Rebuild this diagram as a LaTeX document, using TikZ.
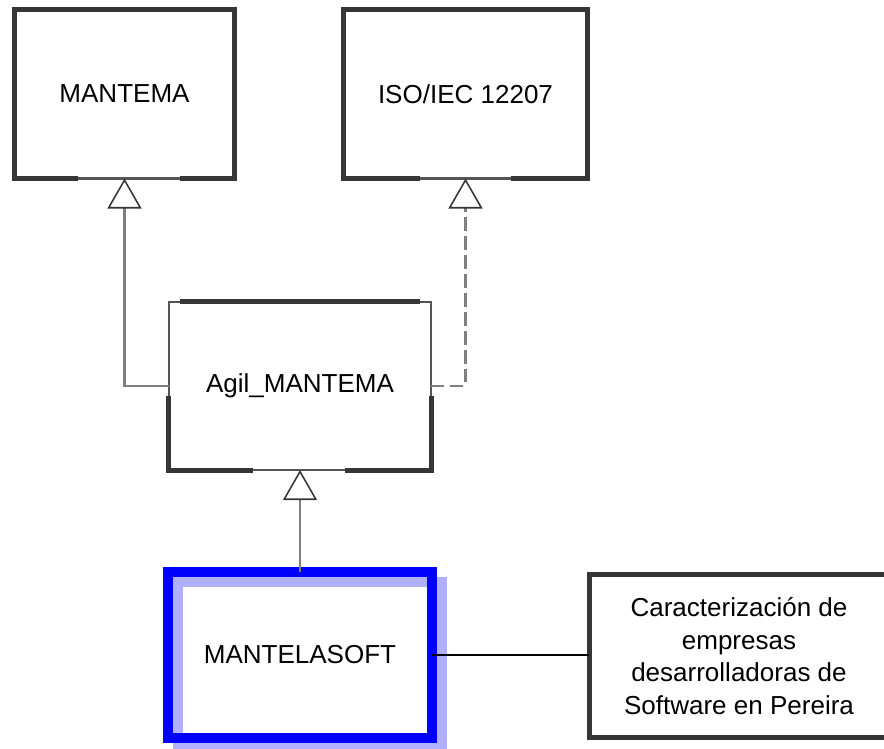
\documentclass[tikz,border=0pt]{standalone}
\usepackage{fontspec}
\setmainfont{Liberation Sans}
\usepackage{tikz}
\usetikzlibrary{arrows.meta}

\definecolor{boxgray}{HTML}{363636}
\definecolor{edgegray}{HTML}{555555}
\definecolor{linkgray}{HTML}{7F7F7F}
\definecolor{softblue}{HTML}{0000FF}
\definecolor{shadeblue}{HTML}{B0B0FF}

\begin{document}
\begin{tikzpicture}[x=0.025cm, y=-0.025cm]
    % Edge width of the boxes
    \newcommand{\edgewidth}{3.55pt}
    % Text size
    \newcommand{\boxfont}{\fontsize{18.5}{23.3}\selectfont}
    % Styles
    \tikzstyle{module}=[draw=boxgray, line width=\edgewidth, outer sep=0pt,
      align=center, font=\boxfont]
    \tikzstyle{gap}=[draw=edgegray, line width=1.5pt,
      preaction={draw=white, line width=4.4pt}]
    \tikzstyle{link}=[draw=linkgray, line width=1.5pt,
      -{Triangle[open, width=0.85cm, length=0.75cm, color=boxgray, line width=1.1pt]}]

    \useasboundingbox (0,0) rectangle (884,749);

    % Top row
    \node[module, minimum width=5.5cm, minimum height=4.225cm]
      (mantema) at (124.5,94) {MANTEMA};
    \node[module, minimum width=6.1cm, minimum height=4.225cm]
      (iso) at (465.5,94) {ISO/IEC 12207};

    % Middle
    \node[module, minimum width=6.55cm, minimum height=4.2cm]
      (agil) at (300,386) {Agil\_MANTEMA};

    % Bottom row
    \node[module, draw=softblue, line width=7.1pt,
      preaction={draw=shadeblue, line width=7.1pt, transform canvas={shift={(10,10)}}},
      minimum width=6.6cm, minimum height=4.15cm]
      (soft) at (300,655) {MANTELASOFT};
    \node[module, minimum width=7.475cm, minimum height=4.075cm]
      (caract) at (739,656)
      {Caracterizaci\'on de\\empresas\\desarrolladoras de\\Software en Pereira};

    % Thin parts of the edges
    \draw[gap] (78,178.5) -- (180,178.5);
    \draw[gap] (420,178.5) -- (511,178.5);
    \draw[gap] (169,396) -- (169,302) -- (180,302);
    \draw[gap] (420,302) -- (431,302) -- (431,396);
    \draw[gap] (253,470) -- (345,470);

    % Generalisations
    \draw[link] (agil.west) -| (mantema.south);
    \draw[link, dash pattern=on 9.5pt off 4pt] (agil.east) -| (iso.south);
    \draw[link] (soft.north) -- (agil.south);

    % Association
    \draw[black, line width=1pt] (soft.east) -- (soft.east -| caract.west);
  \end{tikzpicture}
\end{document}
